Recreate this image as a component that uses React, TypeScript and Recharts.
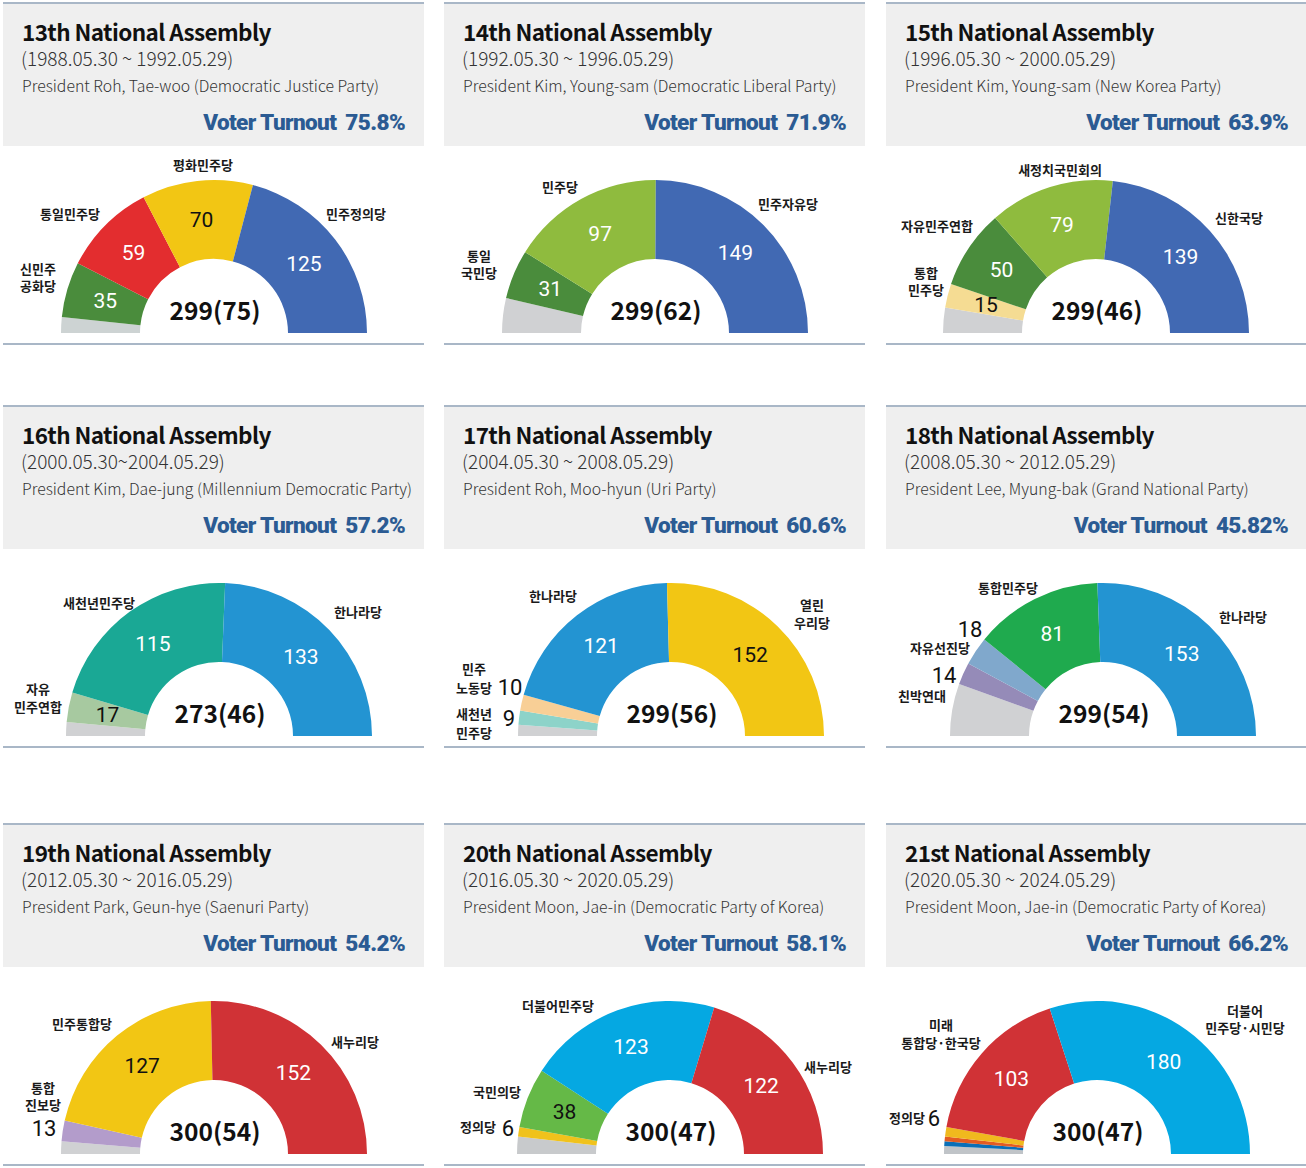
import React from "react";
import { PieChart, Pie, Cell } from "recharts";

// header texts
const titles = [
  "13th National Assembly", "14th National Assembly", "15th National Assembly",
  "16th National Assembly", "17th National Assembly", "18th National Assembly",
  "19th National Assembly", "20th National Assembly", "21st National Assembly",
];
const periods = [
  "(1988.05.30 ~ 1992.05.29)", "(1992.05.30 ~ 1996.05.29)", "(1996.05.30 ~ 2000.05.29)",
  "(2000.05.30~2004.05.29)", "(2004.05.30 ~ 2008.05.29)", "(2008.05.30 ~ 2012.05.29)",
  "(2012.05.30 ~ 2016.05.29)", "(2016.05.30 ~ 2020.05.29)", "(2020.05.30 ~ 2024.05.29)",
];
const presidents = [
  "President Roh, Tae-woo (Democratic Justice Party)",
  "President Kim, Young-sam (Democratic Liberal Party)",
  "President Kim, Young-sam (New Korea Party)",
  "President Kim, Dae-jung (Millennium Democratic Party)",
  "President Roh, Moo-hyun (Uri Party)",
  "President Lee, Myung-bak (Grand National Party)",
  "President Park, Geun-hye (Saenuri Party)",
  "President Moon, Jae-in (Democratic Party of Korea)",
  "President Moon, Jae-in (Democratic Party of Korea)",
];
const turnouts = ["75.8%", "71.9%", "63.9%", "57.2%", "60.6%", "45.82%", "54.2%", "58.1%", "66.2%"];
const totalSeats = [299, 299, 299, 273, 299, 299, 300, 300, 300];
const propSeats = [75, 62, 46, 46, 56, 54, 54, 47, 47];

// seats per party, left to right (others first)
const parties13 = ["기타", "신민주\n공화당", "통일민주당", "평화민주당", "민주정의당"];
const seats13 = [10, 35, 59, 70, 125];
const parties14 = ["기타", "통일\n국민당", "민주당", "민주자유당"];
const seats14 = [22, 31, 97, 149];
const parties15 = ["기타", "통합\n민주당", "자유민주연합", "새정치국민회의", "신한국당"];
const seats15 = [16, 15, 50, 79, 139];
const parties16 = ["기타", "자유\n민주연합", "새천년민주당", "한나라당"];
const seats16 = [8, 17, 115, 133];
const parties17 = ["기타", "새천년\n민주당", "민주\n노동당", "한나라당", "열린\n우리당"];
const seats17 = [7, 9, 10, 121, 152];
const parties18 = ["기타", "친박연대", "자유선진당", "통합민주당", "한나라당"];
const seats18 = [33, 14, 18, 81, 153];
const parties19 = ["기타", "통합\n진보당", "민주통합당", "새누리당"];
const seats19 = [8, 13, 127, 152];
const parties20 = ["기타", "정의당", "국민의당", "더불어민주당", "새누리당"];
const seats20 = [11, 6, 38, 123, 122];
const parties21 = ["기타", "열린민주당", "국민의당", "정의당", "미래\n통합당·한국당", "더불어\n민주당·시민당"];
const seats21 = [5, 3, 3, 6, 103, 180];

// styles
const colors13 = ["#cdd3d3", "#4a8c3c", "#e32d2f", "#f2c614", "#4169b3"];
const colors14 = ["#d0d1d3", "#4a8c3c", "#8fbb3e", "#4169b3"];
const colors15 = ["#d0d1d3", "#f5dc93", "#4a8c3c", "#8fbb3e", "#4169b3"];
const colors16 = ["#d0d1d3", "#a7c9a0", "#1aa895", "#2394d2"];
const colors17 = ["#d0d1d3", "#8dd3c9", "#f8cf96", "#2394d2", "#f2c614"];
const colors18 = ["#d0d1d3", "#958bb8", "#80a8cc", "#1faa4e", "#2394d2"];
const colors19 = ["#d0d1d3", "#b39ccb", "#f2c614", "#d03236"];
const colors20 = ["#c8cacc", "#f0c21c", "#65b947", "#05a8e2", "#d03236"];
const colors21 = ["#c0c4c8", "#0a6fb7", "#e35c22", "#f0b91e", "#d03236", "#05a8e2"];

type Spot = { name?: [number, number]; lh?: number; num?: [number, number]; ink?: string };
const W = "#ffffff";
const K = "#111111";

const spots: Spot[][] = [
  [{}, { name: [-176, -65], lh: 17, ink: W }, { name: [-144, -120], ink: W }, { name: [-11, -169], ink: K }, { name: [142, -120], ink: W }],
  [{}, { name: [-176, -78], lh: 17, ink: W }, { name: [-95, -147], ink: W }, { name: [133, -130], ink: W }],
  [{}, { name: [-170, -61], lh: 17, ink: K }, { name: [-159, -108], ink: W }, { name: [-36, -164], ink: W }, { name: [143, -116], ink: W }],
  [{}, { name: [-181, -48], lh: 18, ink: K }, { name: [-120, -134], ink: W }, { name: [139, -125], ink: W }],
  [{}, { name: [-197, -23], lh: 19, num: [-162, -18] }, { name: [-197, -68], lh: 19, num: [-161, -49] }, { name: [-118, -141], ink: W }, { name: [141, -132], lh: 18, ink: K }],
  [{}, { name: [-181, -41], num: [-159, -61] }, { name: [-163, -89], num: [-133, -107] }, { name: [-95, -149], ink: W }, { name: [140, -120], ink: W }],
  [{}, { name: [-171, -67], lh: 17, num: [-170, -26] }, { name: [-132, -131], ink: K }, { name: [141, -113], ink: W }],
  [{}, { name: [-192, -28], num: [-162, -26] }, { name: [-173, -63], ink: K }, { name: [-112, -149], ink: W }, { name: [158, -88], ink: W }],
  [{}, {}, {}, { name: [-190, -37], num: [-163, -36] }, { name: [-156, -130], lh: 18, ink: W }, { name: [148, -144], lh: 17, ink: W }],
];

const panels = [
  { parties: parties13, seats: seats13, colors: colors13, cx: 211 },
  { parties: parties14, seats: seats14, colors: colors14, cx: 211 },
  { parties: parties15, seats: seats15, colors: colors15, cx: 210 },
  { parties: parties16, seats: seats16, colors: colors16, cx: 216 },
  { parties: parties17, seats: seats17, colors: colors17, cx: 227 },
  { parties: parties18, seats: seats18, colors: colors18, cx: 217 },
  { parties: parties19, seats: seats19, colors: colors19, cx: 211 },
  { parties: parties20, seats: seats20, colors: colors20, cx: 226 },
  { parties: parties21, seats: seats21, colors: colors21, cx: 211 },
];

const colX = [3, 444, 886];
const rowY = [2, 405, 823];
const LINE = "#a9b7c7";
const KR = "'Noto Sans CJK KR', 'Noto Sans', sans-serif";
const NUM = "Roboto, 'Noto Sans', sans-serif";
const RAD = Math.PI / 180;

const makeLabel = (pi: number) => (props: any) => {
  const { cx, cy, midAngle, innerRadius, outerRadius, index, value } = props;
  const spot = spots[pi][index] || {};
  const name: string = panels[pi].parties[index];
  const out: React.ReactNode[] = [];
  if (index === 0) {
    out.push(
      <text key="t" x={cx + 1} y={cy - 13} textAnchor="middle" fontFamily={KR} fontWeight={700} fontSize={24.5} fill="#111">
        {`${totalSeats[pi]}(${propSeats[pi]})`}
      </text>
    );
  }
  if (spot.name) {
    const lines = name.split("\n");
    const lh = spot.lh ?? 17;
    lines.forEach((ln, k) => {
      out.push(
        <text key={`n${k}`} x={cx + spot.name![0]} y={cy + spot.name![1] + k * lh} textAnchor="middle" dominantBaseline="central" fontFamily={KR} fontWeight={700} fontSize={13} fill="#1a1a1a">
          {ln}
        </text>
      );
    });
  }
  if (spot.num) {
    out.push(
      <text key="o" x={cx + spot.num[0]} y={cy + spot.num[1]} textAnchor="middle" dominantBaseline="central" fontFamily={NUM} fontSize={22} fill="#111">
        {value}
      </text>
    );
  } else if (spot.ink) {
    const r = (innerRadius + outerRadius) / 2;
    const x = cx + r * Math.cos(-midAngle * RAD);
    const y = cy + r * Math.sin(-midAngle * RAD);
    out.push(
      <text key="i" x={x} y={y} textAnchor="middle" dominantBaseline="central" fontFamily={NUM} fontSize={21} fill={spot.ink}>
        {value}
      </text>
    );
  }
  return <g>{out}</g>;
};

function Panel({ i }: { i: number }) {
  const p = panels[i];
  const width = i % 3 === 2 ? 420 : 421;
  const data = p.parties.map((name, k) => ({ name, value: p.seats[k] }));
  return (
    <div style={{ position: "absolute", left: colX[i % 3], top: rowY[Math.floor(i / 3)], width }}>
      <div style={{ height: 2, background: LINE }} />
      <svg width={width} height={142} style={{ display: "block", background: "#efefef" }}>
        <text x={19} y={37} fontFamily={KR} fontWeight={700} fontSize={22.5} letterSpacing={-0.6} fill="#111">
          {titles[i]}
        </text>
        <text x={18} y={62} fontFamily={KR} fontWeight={300} fontSize={19} fill="#333">
          {periods[i]}
        </text>
        <text x={19} y={88} fontFamily={KR} fontWeight={300} fontSize={15.8} fill="#333">
          {presidents[i]}
        </text>
        <text x={402} y={126} textAnchor="end" fontFamily={NUM} fontWeight={900} fontSize={22.5} fill="#2b5b93" letterSpacing={-0.6}>
          Voter Turnout
          <tspan dx={9}>{turnouts[i]}</tspan>
        </text>
      </svg>
      <PieChart width={width} height={197} margin={{ top: 0, right: 0, bottom: 0, left: 0 }}>
        <Pie
          data={data}
          dataKey="value"
          cx={p.cx}
          cy={187}
          startAngle={180}
          endAngle={0}
          innerRadius={74}
          outerRadius={153}
          stroke="none"
          isAnimationActive={false}
          labelLine={false}
          label={makeLabel(i)}
        >
          {data.map((d, k) => (
            <Cell key={`c-${k}`} fill={p.colors[k]} />
          ))}
        </Pie>
      </PieChart>
      <div style={{ height: 2, background: LINE }} />
    </div>
  );
}

export default function App() {
  return (
    <div style={{ position: "absolute", left: 0, top: 0, width: 1306, height: 1168, background: "#fff" }}>
      {panels.map((_, i) => (
        <Panel key={i} i={i} />
      ))}
    </div>
  );
}
